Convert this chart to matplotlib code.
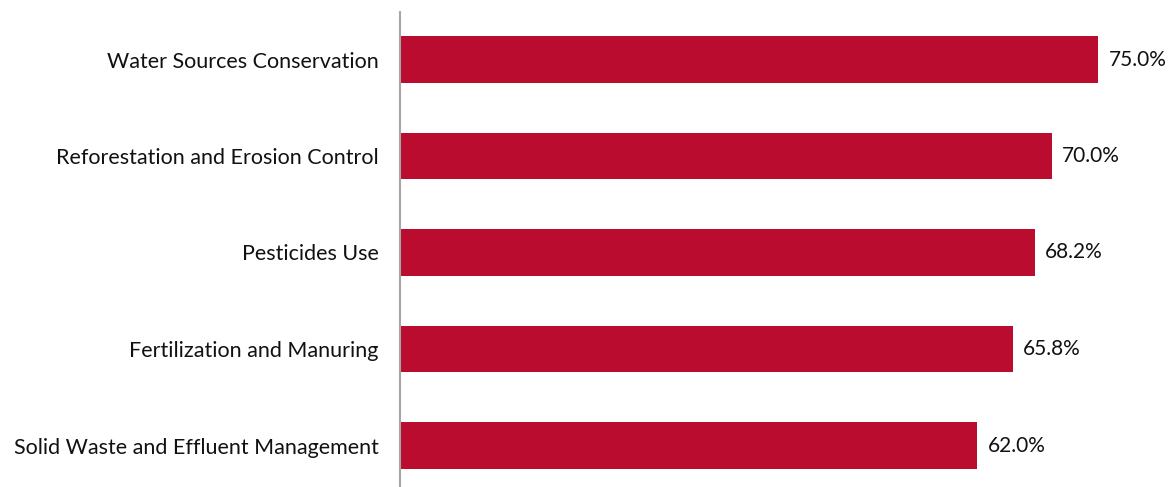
import matplotlib
matplotlib.use("Agg")
import matplotlib.pyplot as plt

categories = [
    "Water Sources Conservation",
    "Reforestation and Erosion Control",
    "Pesticides Use",
    "Fertilization and Manuring",
    "Solid Waste and Effluent Management",
]
values = [75.0, 70.0, 68.2, 65.8, 62.0]

plt.rcParams["font.family"] = ["Lato", "DejaVu Sans"]

fig = plt.figure(figsize=(11.68, 4.87), dpi=100)
W, H = 1168, 487
ax = fig.add_axes([400 / W, 0, (W - 400) / W, (H - 12) / H])

bar_color = "#BA0C2F"
pos = list(range(len(categories)))
ax.barh(pos, values, height=0.487, color=bar_color)

ax.set_xlim(0, (W - 400) / 9.31)
ax.set_ylim(4 + (487 - 445.5) / 96.5, -(59.5 - 12) / 96.5)

for p, v in zip(pos, values):
    ax.annotate(f"{v:.1f}%", (v, p), xytext=(7.5, 0), textcoords="offset points",
                va="center", ha="left", fontsize=15, color="#111111")

ax.set_yticks(pos)
ax.set_yticklabels(categories, fontsize=15.5, color="#111111")
ax.tick_params(axis="y", length=0, pad=15.5)
ax.set_xticks([])

for s in ["top", "right", "bottom"]:
    ax.spines[s].set_visible(False)
ax.spines["left"].set_color("#A6A6A6")
ax.spines["left"].set_linewidth(1.5)

fig.savefig("out.png", dpi=100)
